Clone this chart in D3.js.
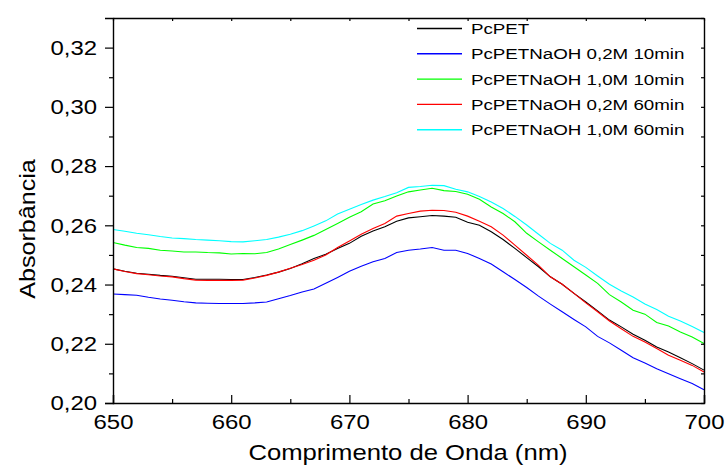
<!DOCTYPE html>
<html>
<head>
<meta charset="utf-8">
<script src="https://cdnjs.cloudflare.com/ajax/libs/d3/7.8.5/d3.min.js"></script>
<style>
  body { margin: 0; background: #fff; }
  svg { display: block; }
</style>
</head>
<body>
<div id="chart"></div>
<script>
// wavelength (nm), one point per nm
var wavelengths = d3.range(650, 701, 1);

var pcPET = [0.2453, 0.2445, 0.2438, 0.2435, 0.2431, 0.2428, 0.2423, 0.2418, 0.2418, 0.2418,
  0.2417, 0.2417, 0.2424, 0.2432, 0.2442, 0.2454, 0.2470, 0.2488, 0.2502, 0.2522,
  0.2539, 0.2563, 0.2581, 0.2595, 0.2614, 0.2625, 0.2629, 0.2633, 0.2631, 0.2627,
  0.2610, 0.2600, 0.2578, 0.2552, 0.2522, 0.2491, 0.2460, 0.2426, 0.2401, 0.2370,
  0.2341, 0.2311, 0.2280, 0.2257, 0.2232, 0.2212, 0.2189, 0.2172, 0.2153, 0.2133, 0.2111];

var naoh02m10 = [0.2368, 0.2366, 0.2364, 0.2357, 0.2351, 0.2347, 0.2342, 0.2338, 0.2337, 0.2336,
  0.2336, 0.2336, 0.2338, 0.2341, 0.2352, 0.2363, 0.2375, 0.2385, 0.2404, 0.2424,
  0.2445, 0.2462, 0.2477, 0.2488, 0.2508, 0.2516, 0.2520, 0.2525, 0.2516, 0.2516,
  0.2505, 0.2488, 0.2469, 0.2443, 0.2417, 0.2390, 0.2361, 0.2334, 0.2308, 0.2282,
  0.2257, 0.2225, 0.2203, 0.2178, 0.2153, 0.2135, 0.2116, 0.2099, 0.2082, 0.2066, 0.2045];

var naoh10m10 = [0.2542, 0.2533, 0.2525, 0.2522, 0.2516, 0.2513, 0.2510, 0.2510, 0.2508, 0.2507,
  0.2503, 0.2505, 0.2504, 0.2508, 0.2520, 0.2535, 0.2550, 0.2566, 0.2586, 0.2606,
  0.2627, 0.2646, 0.2672, 0.2683, 0.2699, 0.2713, 0.2719, 0.2725, 0.2717, 0.2714,
  0.2705, 0.2688, 0.2662, 0.2640, 0.2612, 0.2573, 0.2544, 0.2516, 0.2488, 0.2460,
  0.2432, 0.2404, 0.2366, 0.2341, 0.2313, 0.2300, 0.2272, 0.2260, 0.2240, 0.2223, 0.2201];

var naoh02m60 = [0.2453, 0.2444, 0.2437, 0.2433, 0.2429, 0.2426, 0.2420, 0.2415, 0.2414, 0.2414,
  0.2414, 0.2415, 0.2422, 0.2431, 0.2442, 0.2455, 0.2468, 0.2482, 0.2500, 0.2525,
  0.2547, 0.2570, 0.2589, 0.2606, 0.2631, 0.2640, 0.2648, 0.2651, 0.2650, 0.2644,
  0.2631, 0.2614, 0.2595, 0.2567, 0.2533, 0.2499, 0.2465, 0.2426, 0.2401, 0.2370,
  0.2338, 0.2308, 0.2277, 0.2251, 0.2225, 0.2206, 0.2184, 0.2161, 0.2144, 0.2127, 0.2105];

var naoh10m60 = [0.2586, 0.2580, 0.2573, 0.2568, 0.2562, 0.2557, 0.2555, 0.2552, 0.2550, 0.2548,
  0.2545, 0.2544, 0.2548, 0.2552, 0.2560, 0.2570, 0.2582, 0.2598, 0.2615, 0.2638,
  0.2654, 0.2670, 0.2685, 0.2697, 0.2710, 0.2728, 0.2731, 0.2735, 0.2734, 0.2722,
  0.2713, 0.2697, 0.2679, 0.2657, 0.2630, 0.2601, 0.2570, 0.2539, 0.2516, 0.2482,
  0.2458, 0.2429, 0.2401, 0.2378, 0.2358, 0.2334, 0.2316, 0.2293, 0.2277, 0.2258, 0.2238];

var seriesNames = ["PcPET", "PcPETNaOH 0,2M 10min", "PcPETNaOH 1,0M 10min", "PcPETNaOH 0,2M 60min", "PcPETNaOH 1,0M 60min"];
var seriesValues = [pcPET, naoh02m10, naoh10m10, naoh02m60, naoh10m60];
var seriesColours = ["#000000", "#0000ff", "#00ff00", "#ff0000", "#00ffff"];

var xTicks = [650, 660, 670, 680, 690, 700];
var yTicks = [0.20, 0.22, 0.24, 0.26, 0.28, 0.30, 0.32];

var width = 726, height = 467;
var pLeft = 113, pRight = 704, pTop = 18, pBottom = 403;
var stretch = 1.14; // text in the picture is a bit wider than tall

var x = d3.scaleLinear().domain([650, 700]).range([pLeft, pRight]);
var y = d3.scaleLinear().domain([0.20, 0.33]).range([pBottom, pTop]);
var fmt = function (d) { return d3.format(".2f")(d).replace(".", ","); };

var svg = d3.select("#chart").append("svg")
    .attr("width", width)
    .attr("height", height)
    .style("font-family", "'Liberation Sans', Arial, sans-serif");

var plot = svg.append("g");
var line = d3.line()
    .x(function (d) { return x(d[0]); })
    .y(function (d) { return y(d[1]); });

seriesValues.forEach(function (vals, i) {
    plot.append("path")
        .datum(wavelengths.map(function (w, j) { return [w, vals[j]]; }))
        .attr("fill", "none")
        .attr("stroke", seriesColours[i])
        .attr("stroke-width", 1.1)
        .attr("d", line);
});

// axes
var xMinor = d3.range(655, 700, 10);
var yMinor = [0.21, 0.23, 0.25, 0.27, 0.29, 0.31];

var xAxis = svg.append("g")
    .attr("transform", "translate(0," + pBottom + ")")
    .call(d3.axisBottom(x).tickValues(xTicks).tickSize(-8).tickPadding(11).tickFormat(d3.format("d")));
svg.append("g")
    .attr("transform", "translate(0," + pBottom + ")")
    .call(d3.axisBottom(x).tickValues(xMinor).tickSize(-4).tickFormat(""))
    .select(".domain").remove();

var yAxis = svg.append("g")
    .attr("transform", "translate(" + pLeft + ",0)")
    .call(d3.axisLeft(y).tickValues(yTicks).tickSize(8).tickPadding(6).tickFormat(fmt));
svg.append("g")
    .attr("transform", "translate(" + pLeft + ",0)")
    .call(d3.axisLeft(y).tickValues(yMinor).tickSize(4).tickFormat(""))
    .select(".domain").remove();

// top and right frame with small inward ticks
svg.append("g")
    .attr("transform", "translate(0," + pTop + ")")
    .call(d3.axisTop(x).tickValues(d3.range(650, 701, 5)).tickSize(-3).tickSizeOuter(0).tickFormat(""));
svg.append("g")
    .attr("transform", "translate(" + pRight + ",0)")
    .call(d3.axisRight(y).tickValues(d3.range(0.20, 0.335, 0.01)).tickSize(-3).tickSizeOuter(0).tickFormat(""));

svg.selectAll(".domain").attr("stroke", "#000").attr("stroke-width", 1.4);
svg.selectAll(".tick line").attr("stroke", "#000").attr("stroke-width", 1.2);

xAxis.selectAll("text")
    .attr("fill", "#000")
    .style("font-size", "21px")
    .attr("transform", "scale(" + stretch + ",1)");
yAxis.selectAll("text")
    .attr("fill", "#000")
    .style("font-size", "21px")
    .attr("transform", "scale(" + stretch + ",1)");

// axis titles
svg.append("text")
    .attr("transform", "translate(408,460) scale(" + stretch + ",1)")
    .attr("text-anchor", "middle")
    .style("font-size", "22.5px")
    .text("Comprimento de Onda (nm)");

svg.append("text")
    .attr("transform", "translate(35,229) rotate(-90) scale(" + stretch + ",1)")
    .attr("text-anchor", "middle")
    .style("font-size", "22px")
    .text("Absorbância");

// legend
var legendRow = 25.3;
var legend = svg.selectAll(".legend")
    .data(seriesNames)
    .enter()
    .append("g")
    .attr("class", "legend")
    .attr("transform", function (d, i) { return "translate(417," + (28.5 + i * legendRow) + ")"; });

legend.append("line")
    .attr("x1", 0)
    .attr("x2", 45)
    .attr("stroke", function (d, i) { return seriesColours[i]; })
    .attr("stroke-width", 1.4);

legend.append("text")
    .attr("x", 54)
    .attr("y", 5.5)
    .attr("transform", "translate(54,0) scale(1.21,1) translate(-54,0)")
    .style("font-size", "15.5px")
    .text(function (d) { return d; });
</script>
</body>
</html>
